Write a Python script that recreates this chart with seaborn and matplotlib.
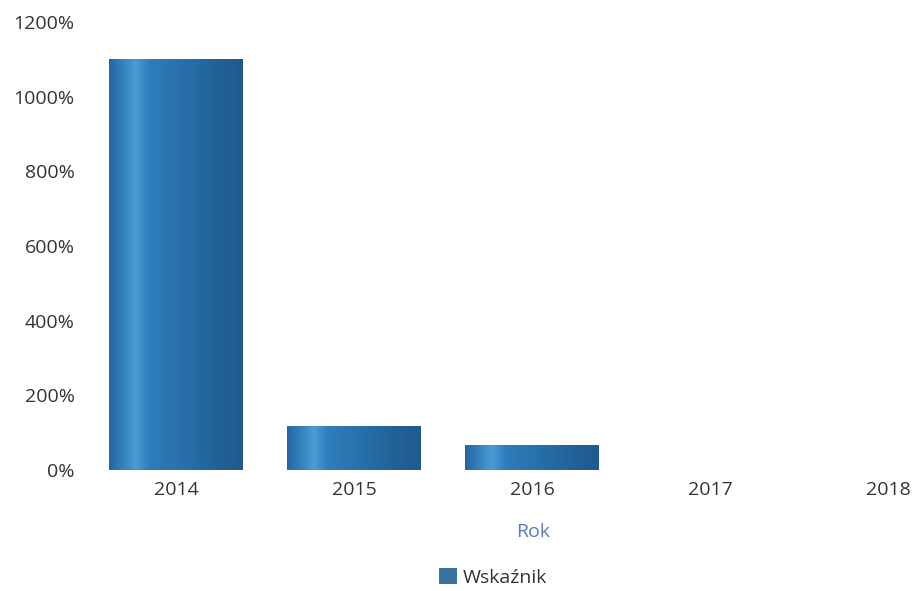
import numpy as np
import pandas as pd
import matplotlib
matplotlib.use("Agg")
import matplotlib.pyplot as plt
import seaborn as sns
from matplotlib.colors import LinearSegmentedColormap
from matplotlib.ticker import FuncFormatter

# data (percent)
years = ["2014", "2015", "2016", "2017", "2018"]
values = [1100, 118, 67, 0, 0]

df = pd.DataFrame({"Rok": years, "Wskaźnik": values})

sns.set_style("white")
plt.rcParams['font.family'] = ['Open Sans', 'DejaVu Sans']

fig = plt.figure(figsize=(9.15, 5.91), dpi=100)
# plot area: x from 87px, y zero at 470px, 1200% at 22px
ax = fig.add_axes([87/915, 121/591, 828/915, 448/591])

sns.barplot(data=df, x="Rok", y="Wskaźnik", color="#2a74b0", width=0.75,
            linewidth=0, label="Wskaźnik", ax=ax)

# metallic shading of the bars
shade = LinearSegmentedColormap.from_list("shade", [
    (0.0, "#2566a0"), (0.12, "#3786c2"), (0.2, "#4e9bd4"), (0.3, "#2f7dbb"),
    (0.55, "#2870aa"), (0.8, "#226298"), (1.0, "#1f5a8c")])
grad = np.linspace(0, 1, 256).reshape(1, -1)
for p in ax.patches:
    h = p.get_height()
    if h <= 0:
        continue
    x0 = p.get_x()
    w = p.get_width()
    im = ax.imshow(grad, cmap=shade, aspect="auto", extent=[x0, x0 + w, 0, h],
                   zorder=p.get_zorder() + 0.1)
    im.set_clip_path(p)

ax.set_xlim(-0.5, 4.15)
ax.set_ylim(0, 1200)
ax.set_yticks(range(0, 1201, 200))
ax.yaxis.set_major_formatter(FuncFormatter(lambda v, _: f"{int(v)}%"))
sns.despine(ax=ax, left=True, bottom=True)
ax.tick_params(axis="both", length=0, labelsize=14, labelcolor="#333333")
ax.tick_params(axis="y", pad=9)
ax.tick_params(axis="x", pad=8)
ax.set_ylabel("")
ax.set_xlabel("Rok", fontsize=14, color="#5b7bb8")
ax.xaxis.set_label_coords(446/828, -53/448)

leg = ax.legend(loc="lower center", bbox_to_anchor=(0.5 - 8/828, -0.30),
                frameon=False, fontsize=14, handlelength=0.9, handleheight=0.9,
                handletextpad=0.3)
for t in leg.get_texts():
    t.set_color("#333333")

fig.savefig("out.png", dpi=100)
